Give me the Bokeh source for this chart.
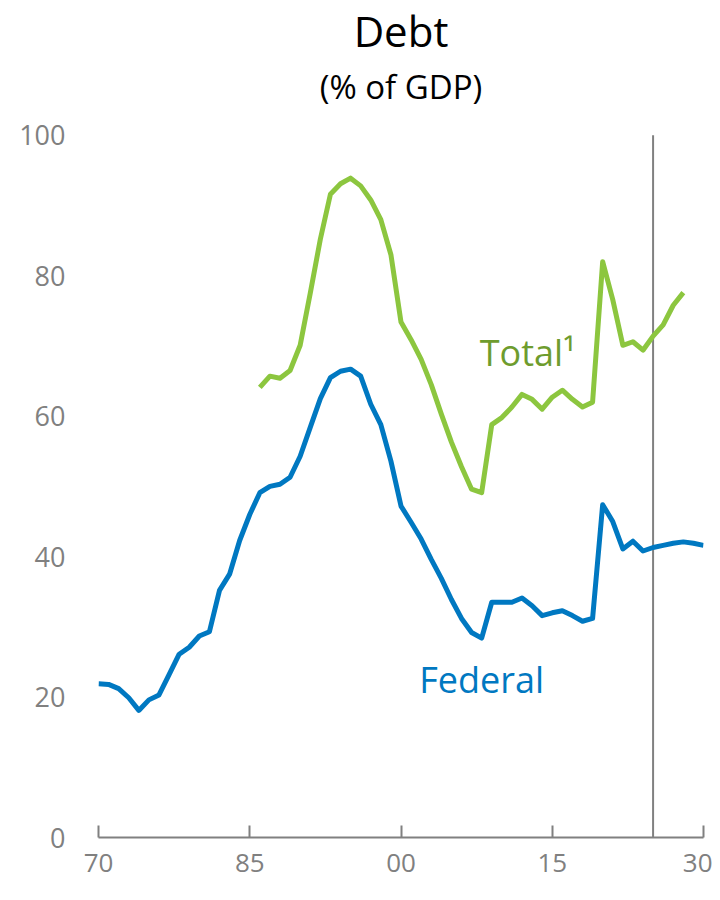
from bokeh.plotting import figure
from bokeh.models import Range1d, FixedTicker, Label
from bokeh.core.properties import value
from bokeh.embed import file_html
from bokeh.resources import INLINE

federal_years = list(range(1970, 2031))
federal = [21.9, 21.8, 21.2, 19.9, 18.1, 19.6, 20.3, 23.2, 26.1, 27.1,
           28.7, 29.3, 35.2, 37.5, 42.3, 46.0, 49.1, 50.0, 50.3, 51.3,
           54.3, 58.4, 62.5, 65.5, 66.4, 66.7, 65.7, 61.7, 58.8, 53.6,
           47.2, 44.9, 42.5, 39.6, 36.9, 33.9, 31.2, 29.2, 28.4, 33.5,
           33.5, 33.5, 34.1, 33.0, 31.6, 32.0, 32.3, 31.6, 30.8, 31.2,
           47.4, 45.0, 41.1, 42.2, 40.8, 41.3, 41.6, 41.9, 42.1, 41.9,
           41.6]

total_years = list(range(1986, 2029))
total = [64.1, 65.7, 65.4, 66.5, 70.1, 77.5, 85.2, 91.6, 93.1, 93.9,
         92.8, 90.8, 88.0, 83.0, 73.4, 70.9, 68.1, 64.5, 60.3, 56.3,
         52.8, 49.6, 49.1, 58.8, 59.8, 61.3, 63.1, 62.4, 61.0, 62.7,
         63.7, 62.4, 61.3, 62.0, 82.0, 76.6, 70.1, 70.6, 69.4, 71.4,
         73.0, 75.8, 77.6]

tick_years = [1970, 1985, 2000, 2015, 2030]
tick_labels = ["70", "85", "00", "15", "30"]
y_ticks = [0, 20, 40, 60, 80, 100]
y_max_axis = 100
projection_start = 2025
title_text = "Debt"
subtitle_text = "(% of GDP)"

FONT = "Open Sans"
GRAY = "#808080"
BLUE = "#0078c1"
GREEN = "#8cc63f"
GREEN_TEXT = "#6e9c2e"

# the frame extends above the 0-100 axis to leave room for the titles
p = figure(width=712, height=884, output_backend="svg", toolbar_location=None,
           x_range=Range1d(1970, 2030), y_range=Range1d(0, 119.2),
           min_border_left=98, min_border_right=9, min_border_bottom=47,
           min_border_top=0)
p.outline_line_color = None
p.grid.grid_line_color = None
p.background_fill_color = "white"
p.border_fill_color = "white"

p.add_layout(Label(x=2000, y=114.9, text=title_text, text_align="center",
                   text_baseline="middle", text_font=FONT,
                   text_font_size="42px", text_color="black"))
p.add_layout(Label(x=2000, y=107.0, text=subtitle_text, text_align="center",
                   text_baseline="middle", text_font=FONT,
                   text_font_size="33px", text_color="black"))

# x axis
xa = p.xaxis[0]
xa.ticker = FixedTicker(ticks=tick_years, minor_ticks=[])
xa.major_label_overrides = {y: l for y, l in zip(tick_years, tick_labels)}
xa.axis_line_color = GRAY
xa.axis_line_width = 2
xa.major_tick_line_color = GRAY
xa.major_tick_line_width = 2
xa.major_tick_in = 12
xa.major_tick_out = 0
xa.minor_tick_line_color = None
xa.major_label_text_font = FONT
xa.major_label_text_font_size = "26px"
xa.major_label_text_color = GRAY
xa.major_label_standoff = 16

# y axis
ya = p.yaxis[0]
ya.ticker = FixedTicker(ticks=y_ticks, minor_ticks=[])
ya.axis_line_color = None
ya.major_tick_line_color = None
ya.minor_tick_line_color = None
ya.major_tick_in = 0
ya.major_tick_out = 0
ya.major_label_text_font = FONT
ya.major_label_text_font_size = "27px"
ya.major_label_text_color = GRAY
ya.major_label_standoff = 33

# projection divider, from 0 up to the top of the axis
p.segment(x0=[projection_start], y0=[0], x1=[projection_start],
          y1=[y_max_axis], line_color=GRAY, line_width=2)

p.line(federal_years, federal, line_color=BLUE, line_width=5,
       line_join="round")
p.line(total_years, total, line_color=GREEN, line_width=5, line_join="round")

p.text(x=[2007.8], y=[69.0], text=["Total\u00b9"], text_font=value(FONT),
       text_font_size="36px", text_color=GREEN_TEXT, text_baseline="middle",
       text_align="left")
p.text(x=[2001.8], y=[22.5], text=["Federal"], text_font=value(FONT),
       text_font_size="36px", text_color=BLUE, text_baseline="middle",
       text_align="left")

open("out.html", "w").write(file_html(p, INLINE))
